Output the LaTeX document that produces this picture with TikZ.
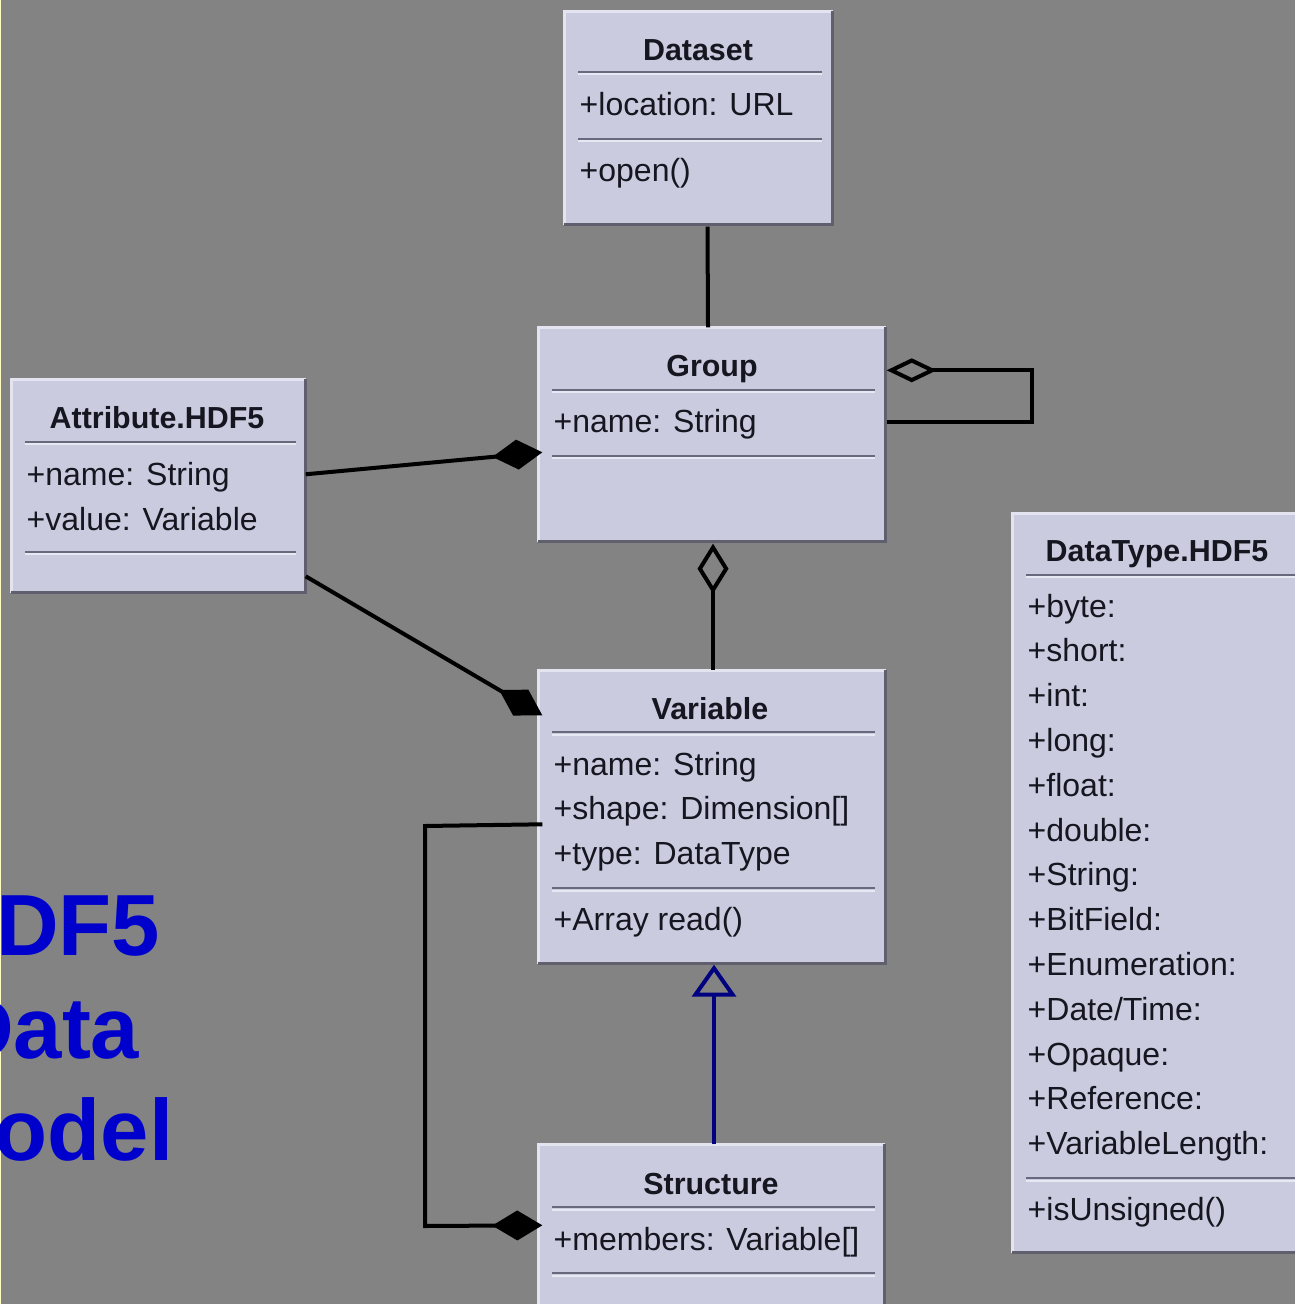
\documentclass[tikz,border=0pt]{standalone}
\usepackage{fontspec}
\setmainfont{Liberation Sans}
\usetikzlibrary{arrows.meta,calc,fit}
\definecolor{bg}{RGB}{131,131,131}
\definecolor{boxfill}{RGB}{203,203,223}
\definecolor{boxlightc}{RGB}{228,228,240}
\definecolor{boxdarkc}{RGB}{95,95,110}
\definecolor{divdarkc}{RGB}{105,105,125}
\definecolor{divlightc}{RGB}{232,232,244}
\definecolor{txt}{RGB}{22,22,32}
\definecolor{bigblue}{RGB}{0,0,204}
\definecolor{navy}{RGB}{0,0,128}
\tikzset{
  boxbody/.style={inner sep=0pt, fill=boxfill, draw=none},
  boxlight/.style={draw=boxlightc, line width=0.025cm},
  boxdark/.style={draw=boxdarkc, line width=0.035cm},
  divdark/.style={draw=divdarkc, line width=0.028cm},
  divlight/.style={draw=divlightc, line width=0.02cm},
  ttl/.style={font=\fontsize{8.65}{10}\selectfont\bfseries, text=txt, inner sep=0pt, anchor=base},
  att/.style={font=\fontsize{9.1}{11}\selectfont, text=txt, inner sep=0pt, anchor=base west},
  big/.style={font=\fontsize{24.7}{28}\selectfont\bfseries, text=bigblue, inner sep=0pt, anchor=base east},
  conn/.style={draw=black, line width=0.04cm},
  genline/.style={draw=navy, line width=0.04cm},
}
\newcommand{\umlbox}[5]{%
  \node[boxbody, fit={(#2,#3)(#4,#5)}] (#1) {};
  \draw[boxlight] (#1.south west) |- (#1.north east);
  \draw[boxdark] (#1.south west) -| (#1.north east);
}
\newcommand{\divline}[3]{%
  \draw[divdark] (#1,#3) -- (#2,#3);
  \draw[divlight] (#1,#3+2.5) -- (#2,#3+2.5);
}
\begin{document}
\begin{tikzpicture}[x=0.01cm,y=-0.01cm]
\useasboundingbox (0,0) rectangle (1295,1304);
\fill[bg] (0,0) rectangle (1295,1304);
\clip (0,0) rectangle (1295,1304);
\fill[yellow!25] (0,0) rectangle (1.5,1304);

% big title (clipped at left, as in the reference)
\node[big] (tA) at (161,955) {HDF5};
\node[big] (tB) at (140,1058) {Data};
\node[big] (tC) at (174,1160) {Model};

% Dataset
\umlbox{ds}{565}{12}{832}{224}
\node[ttl] (dsT) at (698,61) {Dataset};
\divline{578}{822}{72}
\node[att] (dsA) at (579,116) {+location: URL};
\divline{578}{822}{139}
\node[att] (dsM) at (579,182) {+open()};

% Group
\umlbox{grp}{539}{328}{885}{541}
\node[ttl] (grpT) at (712,377) {Group};
\divline{552}{875}{390}
\node[att] (grpA) at (553,433) {+name: String};
\divline{552}{875}{456}

% Attribute.HDF5
\umlbox{att}{12}{380}{305}{592}
\node[ttl] (attT) at (157,429) {Attribute.HDF5};
\divline{25}{296}{442}
\node[att] (attA) at (26,486) {+name: String};
\node[att] (attB) at (26,531) {+value: Variable};
\divline{25}{296}{552}

% Variable
\umlbox{var}{539}{671}{885}{963}
\node[ttl] (varT) at (710,719) {Variable};
\divline{552}{875}{732}
\node[att] (varA) at (553,775) {+name: String};
\node[att] (varB) at (553,819) {+shape: Dimension[]};
\node[att] (varC) at (553,864) {+type: DataType};
\divline{552}{875}{888}
\node[att] (varM) at (553,930) {+Array read()};

% Structure
\umlbox{str}{539}{1145}{884}{1320}
\node[ttl] (strT) at (711,1194) {Structure};
\divline{552}{875}{1207}
\node[att] (strA) at (553,1250) {+members: Variable[]};
\divline{552}{875}{1273}

% DataType.HDF5
\umlbox{dt}{1013}{514}{1320}{1252}
\node[ttl] (dtT) at (1157,562) {DataType.HDF5};
\divline{1026}{1300}{575}
\foreach \t [count=\i from 0] in {byte,short,int,long,float,double,String,BitField,Enumeration,Date/Time,Opaque,Reference,VariableLength}
  \node[att] (dt\i) at (1027,617+44.8*\i) {+\t:};
\divline{1026}{1300}{1178}
\node[att] (dtM) at (1027,1220) {+isUnsigned()};

% connectors
\draw[conn] ($(ds.south)+(9,2)$) -- ($(grp.north)+(-4,0)$);
\draw[conn, {Diamond[open,length=0.5cm,width=0.24cm]}-] ($(grp.north east)+(1,43)$) -- ++(145,0) -- ++(0,52) -- ($(grp.north east)+(1,95)$);
\draw[conn, -{Diamond[length=0.5cm,width=0.3cm]}] ($(att.north east)+(0,95)$) -- ($(grp.north west)+(4,125)$);
\draw[conn, -{Diamond[length=0.5cm,width=0.3cm]}] ($(att.north east)+(0,197)$) -- ($(var.north west)+(4,45)$);
\draw[conn, {Diamond[open,length=0.5cm,width=0.31cm]}-] ($(grp.south)+(1,2)$) -- ($(var.north)+(1,0)$);
\draw[genline, -{Triangle[open,length=0.32cm,width=0.44cm]}] ($(str.north)+(2.5,0)$) -- ($(var.south)+(2,1)$);
\coordinate (c1) at (425,826);
\coordinate (c2) at (425,1226);
\draw[conn, -{Diamond[length=0.5cm,width=0.3cm]}] ($(var.north west)+(4,154)$) -- (c1) -- (c2) -- ($(str.north west)+(4,81)$);
\end{tikzpicture}
\end{document}
